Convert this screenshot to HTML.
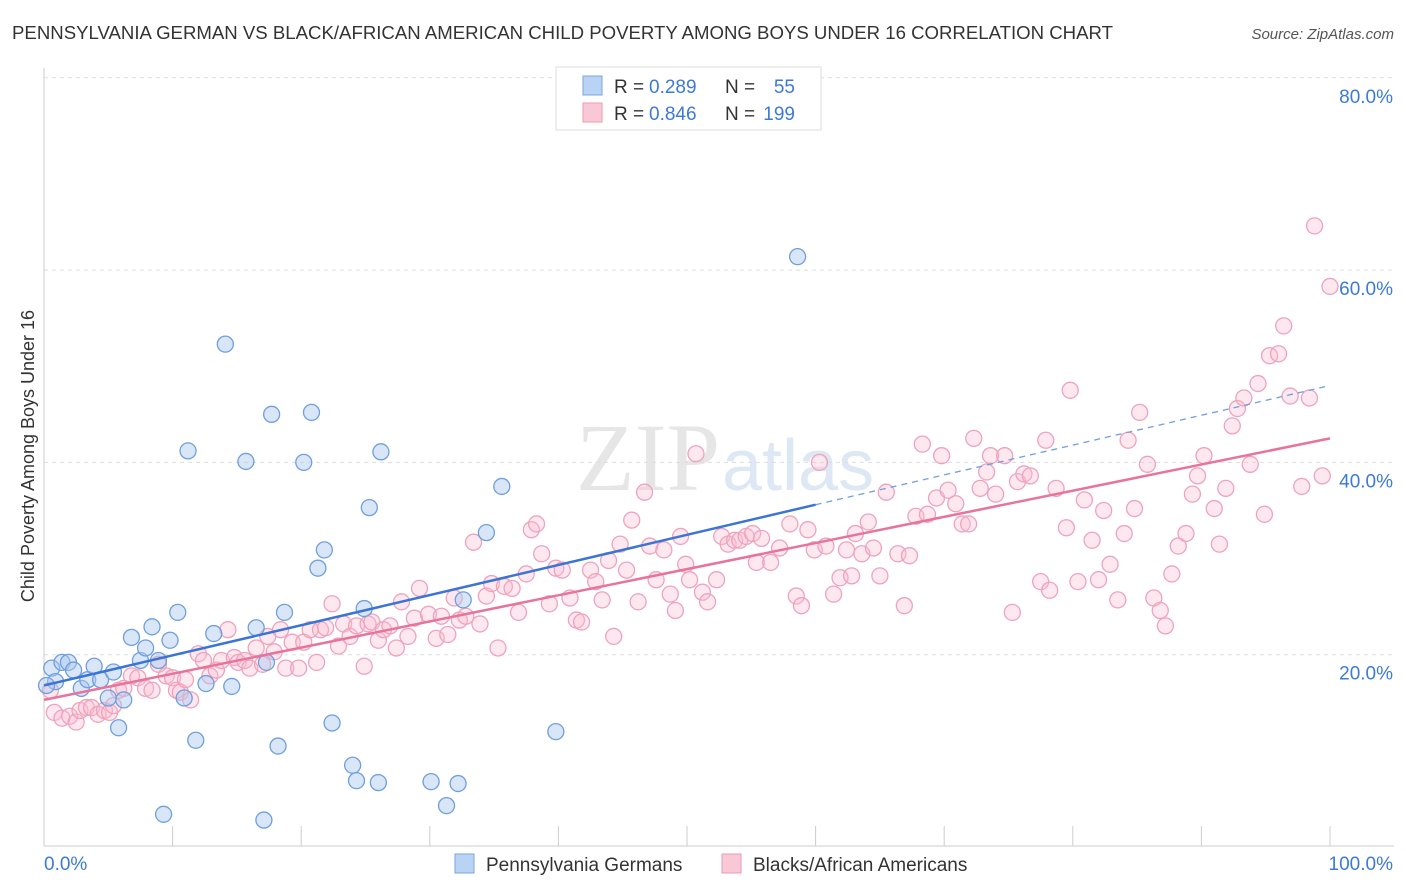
<!DOCTYPE html>
<html><head><meta charset="utf-8">
<style>
body{margin:0;background:#fff;font-family:"Liberation Sans",sans-serif;}
svg{display:block}
</style></head>
<body>
<svg id="chart" width="1406" height="892" viewBox="0 0 1406 892" xmlns="http://www.w3.org/2000/svg">
<text x="12" y="39" font-size="18" fill="#333" textLength="1101" lengthAdjust="spacingAndGlyphs">PENNSYLVANIA GERMAN VS BLACK/AFRICAN AMERICAN CHILD POVERTY AMONG BOYS UNDER 16 CORRELATION CHART</text>
<text x="1394" y="39" font-size="15" fill="#555" font-style="italic" text-anchor="end">Source: ZipAtlas.com</text>
<text x="720" y="490" font-size="96" fill="#e6e6e6" text-anchor="end" font-family="Liberation Serif,serif">ZIP</text>
<text x="722" y="490" font-size="72" fill="#dde8f4">atlas</text>
<g id="grid"></g>
<g id="axes"></g>
<g id="marks"></g>
<text transform="translate(34,456) rotate(-90)" font-size="18" fill="#333" text-anchor="middle">Child Poverty Among Boys Under 16</text>
<g>
<rect x="556" y="67" width="265" height="63" fill="#fff" stroke="#ddd"/>
<rect x="583" y="76" width="19" height="19" fill="#b8d3f4" stroke="#7aa6de"/>
<text x="614" y="93" font-size="19" fill="#333">R =</text>
<text x="649" y="93" font-size="19" fill="#3d7ad6">0.289</text>
<text x="725" y="93" font-size="19" fill="#333">N =</text>
<text x="795" y="93" font-size="19" fill="#3d7ad6" text-anchor="end">55</text>
<rect x="583" y="103" width="19" height="19" fill="#f8c8d6" stroke="#eb9ab3"/>
<text x="614" y="120" font-size="19" fill="#333">R =</text>
<text x="649" y="120" font-size="19" fill="#3d7ad6">0.846</text>
<text x="725" y="120" font-size="19" fill="#333">N =</text>
<text x="795" y="120" font-size="19" fill="#3d7ad6" text-anchor="end">199</text>
</g>
<g>
<rect x="455" y="854" width="19" height="19" fill="#b8d3f4" stroke="#7aa6de"/>
<text x="486" y="871" font-size="19" fill="#333">Pennsylvania Germans</text>
<rect x="722" y="854" width="19" height="19" fill="#f8c8d6" stroke="#eb9ab3"/>
<text x="753" y="871" font-size="19" fill="#333">Blacks/African Americans</text>
</g>
</svg>
<script>
const yTicks=[20,40,60,80];
const yTickLabels=["20.0%","40.0%","60.0%","80.0%"];
const xTicks=[0,10,20,30,40,50,60,70,80,90,100];
const blueX=[0.6,0.9,1.4,1.9,2.3,2.9,3.4,3.9,4.4,5.0,5.4,5.8,6.2,6.8,7.5,7.9,8.4,8.9,9.3,9.8,10.4,10.9,11.2,11.8,12.6,13.2,14.1,14.6,15.7,16.5,17.1,17.3,17.7,18.2,18.7,20.2,20.8,21.3,21.8,22.4,24.0,24.3,24.9,25.3,26.0,26.2,30.1,31.3,32.2,32.6,34.4,35.6,39.8,58.6,0.2];
const blueY=[18.6,17.2,19.2,19.2,18.4,16.5,17.4,18.8,17.4,15.5,18.2,12.4,15.3,21.8,19.4,20.7,22.9,19.4,3.4,21.5,24.4,15.5,41.2,11.1,17.0,22.2,52.3,16.7,40.1,22.8,2.8,19.2,45.0,10.5,24.4,40.0,45.2,29.0,30.9,12.9,8.5,6.9,24.8,35.3,6.7,41.1,6.8,4.3,6.6,25.7,32.7,37.5,12.0,61.4,16.8];
const pinkX=[0.5,0.8,1.4,2.0,2.5,2.8,3.3,3.7,4.2,4.7,5.1,5.4,5.8,6.2,6.8,7.3,7.9,8.4,8.9,9.5,10.0,10.3,10.6,11.0,11.4,12.0,12.4,12.9,13.4,13.8,14.3,14.8,15.1,15.6,16.0,16.5,17.0,17.4,17.9,18.4,18.8,19.3,19.8,20.2,20.7,21.2,21.5,21.9,22.4,22.9,23.3,23.8,24.3,24.9,25.2,25.5,26.0,26.4,26.9,27.4,27.8,28.3,28.8,29.2,29.9,30.5,30.9,31.4,31.9,32.3,32.8,33.4,33.9,34.4,34.8,35.3,35.8,36.4,36.9,37.5,37.9,38.3,38.7,39.3,39.8,40.3,40.9,41.4,41.8,42.5,42.9,43.4,43.9,44.3,44.8,45.3,45.7,46.2,46.7,47.1,47.6,48.2,48.7,49.1,49.5,49.9,50.2,50.7,51.2,51.6,52.3,52.7,53.2,53.7,54.1,54.6,55.1,55.4,55.8,56.5,57.2,58.0,58.5,58.9,59.4,59.9,60.3,60.8,61.4,61.9,62.4,62.8,63.1,63.6,64.1,64.5,65.0,65.5,66.4,66.9,67.3,67.8,68.3,68.7,69.4,69.8,70.3,70.9,71.4,71.9,72.3,72.8,73.3,73.6,74.0,74.7,75.3,75.7,76.2,76.7,77.5,77.9,78.2,78.7,79.5,79.8,80.4,80.9,81.5,82.0,82.4,82.9,83.5,84.0,84.3,84.8,85.2,85.8,86.3,86.8,87.2,87.7,88.2,88.8,89.3,89.7,90.2,91.0,91.4,91.9,92.4,92.8,93.3,93.8,94.4,94.9,95.3,96.0,96.4,96.9,97.8,98.4,98.8,99.4,100.0];
const pinkY=[16.3,14.0,13.4,13.6,13.0,14.2,14.5,14.5,13.8,14.2,14.0,14.7,16.3,16.5,17.8,17.6,16.5,16.3,19.0,17.8,17.6,16.3,16.1,17.4,15.3,20.1,19.4,17.8,18.4,19.4,22.6,19.7,19.2,19.4,18.6,20.7,19.0,21.9,20.3,22.6,18.6,21.3,18.6,21.3,22.6,19.2,22.6,22.8,25.3,20.9,23.2,21.9,23.0,18.8,23.2,23.4,21.5,22.6,23.0,20.7,25.5,21.9,23.8,26.9,24.2,21.7,24.0,22.1,25.9,23.6,24.0,31.7,23.2,26.1,27.4,20.7,27.1,26.9,24.4,28.4,33.0,33.6,30.5,25.3,29.0,28.8,25.9,23.6,23.4,28.8,27.6,25.7,29.8,21.9,31.5,28.8,34.0,25.5,36.9,31.3,27.8,30.9,26.3,24.6,32.3,29.4,27.8,40.9,26.5,25.5,27.8,32.3,31.5,31.9,31.9,32.3,32.6,29.6,32.1,29.6,31.1,33.6,26.1,25.1,33.0,30.9,40.0,31.3,26.3,28.0,30.9,28.2,32.6,30.5,33.8,31.1,28.2,36.9,30.5,25.1,30.3,34.4,41.9,34.6,36.3,40.7,37.1,35.7,33.6,33.6,42.5,37.3,39.0,40.7,36.7,40.7,24.4,38.0,38.8,38.6,27.6,42.3,26.7,37.3,33.2,47.5,27.6,36.1,31.9,27.8,35.0,29.4,25.7,32.6,42.3,35.2,45.2,39.8,25.9,24.6,23.0,28.4,31.3,32.6,36.7,38.6,40.7,35.2,31.5,37.3,43.8,45.6,46.7,39.8,48.2,34.6,51.1,51.3,54.2,46.9,37.5,46.7,64.6,38.6,58.3];
const blueTrend=[16.8,35.6,48.0];
const blueTrendX=[0,60,100];
const pinkTrend=[15.3,42.5];
const pinkTrendX=[0,100];

const X0=44,X1=1330,Y0=847,YPER=9.615;
const sx=v=>X0+(X1-X0)*v/100;
const sy=v=>Y0-YPER*v;
const NS="http://www.w3.org/2000/svg";
function mk(tag,attrs,parent){const e=document.createElementNS(NS,tag);for(const k in attrs)e.setAttribute(k,attrs[k]);parent.appendChild(e);return e;}
const grid=document.getElementById('grid'),axes=document.getElementById('axes'),marks=document.getElementById('marks');
yTicks.forEach((t,i)=>{
 const l=mk('line',{x1:44,x2:1394,y1:sy(t),y2:sy(t),stroke:'#ddd','stroke-dasharray':'4,4'},grid);
 
 
 const tx=mk('text',{x:1393,y:sy(t)+25,'font-size':19,fill:'#3d7ad6','text-anchor':'end'},axes);
 tx.textContent=yTickLabels[i];
 
 
});
const ax=mk('line',{x1:44,x2:1394,y1:846,y2:846,stroke:'#ccc'},axes);


const ay=mk('line',{x1:44,x2:44,y1:68,y2:846,stroke:'#ccc'},axes);


xTicks.forEach(t=>{
 const l=mk('line',{x1:sx(t),x2:sx(t),y1:826,y2:846,stroke:'#ccc'},axes);
 
 
});
const xl0=mk('text',{x:44,y:870,'font-size':19,fill:'#3d7ad6'},axes);xl0.textContent='0.0%';


const xl1=mk('text',{x:1393,y:870,'font-size':19,fill:'#3d7ad6','text-anchor':'end'},axes);xl1.textContent='100.0%';



pinkX.forEach((x,i)=>{
 const c=mk('circle',{cx:sx(x),cy:sy(pinkY[i]),r:8,fill:'rgba(248,190,208,0.35)',stroke:'#eea3bb','stroke-width':1.3},marks);
 
 
});
blueX.forEach((x,i)=>{
 const c=mk('circle',{cx:sx(x),cy:sy(blueY[i]),r:8,fill:'rgba(170,200,240,0.45)',stroke:'#6f9fdc','stroke-width':1.3},marks);
 
 
});
const pl=mk('line',{x1:sx(pinkTrendX[0]),y1:sy(pinkTrend[0]),x2:sx(pinkTrendX[1]),y2:sy(pinkTrend[1]),stroke:'#e8739b','stroke-width':2.5},marks);


const bl=mk('line',{x1:sx(blueTrendX[0]),y1:sy(blueTrend[0]),x2:sx(blueTrendX[1]),y2:sy(blueTrend[1]),stroke:'#3a74d4','stroke-width':2.5},marks);


const bd=mk('line',{x1:sx(blueTrendX[1]),y1:sy(blueTrend[1]),x2:sx(blueTrendX[2]),y2:sy(blueTrend[2]),stroke:'#6f9fdc','stroke-width':1.3,'stroke-dasharray':'6,5'},marks);


</script>
</body></html>
